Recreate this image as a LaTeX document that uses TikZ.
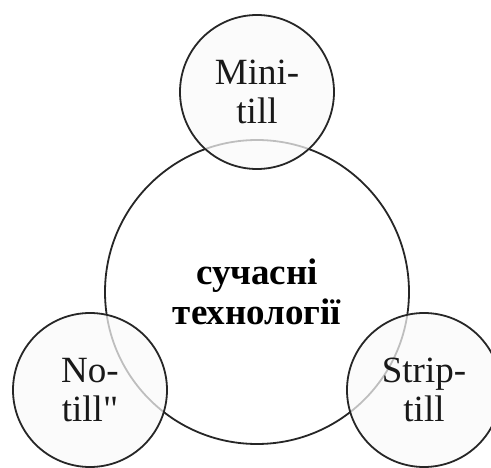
\documentclass[tikz,border=0pt]{standalone}
\usepackage{fontspec}
\setmainfont{Liberation Serif}
\usepackage{tikz}

\begin{document}
\begin{tikzpicture}[x=1pt,y=1pt,
    bigcirc/.style={draw=black!85,line width=1.8pt,shape=circle,fill=white,text=black,align=center,inner sep=0pt},
    smallcirc/.style={draw=black!85,line width=1.8pt,shape=circle,fill=gray!4,fill opacity=0.72,text opacity=1,text=black!90,align=center,inner sep=0pt,minimum size=154pt,font=\fontsize{37}{39}\selectfont}]
    \useasboundingbox (0,0) rectangle (491,467);
                    \node[bigcirc,minimum size=304pt,font=\fontsize{37}{40}\selectfont\bfseries] (core) at (257,175) {сучасні\\технології};
                    \node[smallcirc] (mini) at (257,375) {Mini-\\till};
                    \node[smallcirc] (notill) at (90,77) {No-\\till\textquotedbl};
                    \node[smallcirc] (strip) at (424,77) {Strip-\\till};
\end{tikzpicture}
\end{document}
